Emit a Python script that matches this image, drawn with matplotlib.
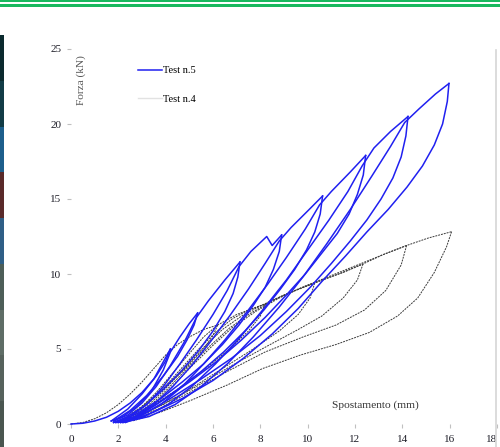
import matplotlib
matplotlib.use("Agg")
import matplotlib.pyplot as plt
from matplotlib.lines import Line2D
from matplotlib.patches import Rectangle

# ---- Test n.5 (blue) : load / unload branches, (spostamento mm, forza kN)
t5_load0 = [(0, 0), (0.5, 0.05), (1, 0.2), (1.5, 0.45), (2, 0.85), (2.5, 1.4), (3, 2.1), (3.5, 3.0), (4.2, 5.0)]
t5_unl0 = [(4.2, 5.0), (4.0, 4.2), (3.6, 3.2), (3.0, 2.0), (2.4, 1.0), (1.7, 0.2)]
t5_rel1 = [(1.7, 0.2), (2.2, 0.5), (2.8, 1.2), (3.4, 2.2), (3.9, 3.6), (4.2, 4.8), (4.6, 5.8), (5.0, 6.7), (5.35, 7.4)]
t5_unl1 = [(5.35, 7.4), (5.2, 6.6), (4.9, 5.6), (4.5, 4.5), (3.9, 3.2), (3.2, 1.9), (2.5, 0.9), (1.8, 0.2)]
t5_rel2 = [(1.8, 0.2), (2.4, 0.6), (3.0, 1.4), (3.6, 2.5), (4.2, 3.9), (4.8, 5.5), (5.3, 7.1), (5.8, 8.2), (6.5, 9.6), (7.14, 10.8)]
t5_unl2 = [(7.14, 10.8), (7.05, 9.8), (6.85, 8.7), (6.5, 7.5), (6.0, 6.2), (5.4, 4.9), (4.7, 3.6), (3.9, 2.3), (3.1, 1.2),
           (2.4, 0.5), (1.8, 0.1)]
t5_rel3 = [(1.8, 0.1), (2.5, 0.5), (3.2, 1.3), (3.9, 2.5), (4.6, 4.0), (5.3, 5.6), (6.0, 7.3), (6.6, 8.9), (7.1, 10.5),
           (7.6, 11.5), (8.27, 12.5), (8.5, 11.9), (8.9, 12.6)]
t5_unl3 = [(8.9, 12.6), (8.8, 11.5), (8.55, 10.3), (8.2, 9.1), (7.7, 7.9), (7.1, 6.6), (6.4, 5.3), (5.6, 4.0), (4.7, 2.8),
           (3.8, 1.7), (2.9, 0.8), (2.2, 0.25), (1.9, 0.1)]
t5_rel4 = [(1.9, 0.1), (2.7, 0.5), (3.5, 1.3), (4.3, 2.5), (5.1, 3.9), (5.9, 5.5), (6.7, 7.2), (7.5, 9.0), (8.2, 10.7),
           (8.8, 12.2), (9.3, 13.1), (10.0, 14.2), (10.63, 15.2)]
t5_unl4 = [(10.63, 15.2), (10.53, 14.0), (10.3, 12.8), (9.95, 11.6), (9.45, 10.3), (8.85, 9.0), (8.15, 7.6), (7.35, 6.2),
           (6.45, 4.8), (5.5, 3.5), (4.5, 2.3), (3.5, 1.2), (2.6, 0.4), (2.0, 0.1)]
t5_rel5 = [(2.0, 0.1), (2.9, 0.5), (3.8, 1.3), (4.7, 2.5), (5.6, 4.0), (6.5, 5.6), (7.4, 7.4), (8.3, 9.3), (9.1, 11.1),
           (9.9, 13.0), (10.5, 14.6), (11.0, 15.5), (11.8, 16.8), (12.45, 17.9)]
t5_unl5 = [(12.45, 17.9), (12.35, 16.6), (12.1, 15.3), (11.75, 14.0), (11.25, 12.7), (10.6, 11.4), (9.9, 10.0), (9.1, 8.6),
           (8.2, 7.1), (7.2, 5.6), (6.1, 4.1), (5.0, 2.8), (3.9, 1.6), (2.9, 0.6), (2.1, 0.1)]
t5_rel6 = [(2.1, 0.1), (3.1, 0.5), (4.1, 1.3), (5.1, 2.5), (6.1, 4.0), (7.1, 5.7), (8.1, 7.6), (9.1, 9.6), (10.0, 11.6),
           (10.9, 13.6), (11.7, 15.5), (12.3, 17.2), (12.8, 18.4), (13.5, 19.5), (14.24, 20.5)]
t5_unl6 = [(14.24, 20.5), (14.15, 19.2), (13.95, 17.8), (13.6, 16.4), (13.1, 15.0), (12.5, 13.6), (11.8, 12.2), (11.0, 10.7),
           (10.1, 9.1), (9.1, 7.5), (8.0, 5.9), (6.8, 4.4), (5.5, 3.0), (4.2, 1.7), (3.1, 0.7), (2.2, 0.1)]
t5_rel7 = [(2.2, 0.1), (3.3, 0.5), (4.4, 1.3), (5.5, 2.5), (6.6, 4.0), (7.7, 5.8), (8.8, 7.8), (9.8, 9.8), (10.8, 12.0),
           (11.8, 14.3), (12.7, 16.5), (13.5, 18.5), (14.1, 20.1), (14.7, 21.0), (15.4, 22.0), (15.97, 22.7)]
t5_unl7 = [(15.97, 22.7), (15.9, 21.5), (15.7, 20.0), (15.35, 18.6), (14.85, 17.2), (14.2, 15.8), (13.4, 14.3), (12.5, 12.8),
           (11.6, 11.2), (10.6, 9.5), (9.6, 7.7), (8.5, 6.0), (7.3, 4.4), (6.0, 2.9), (4.7, 1.7), (3.5, 0.8), (2.3, 0.1)]

# ---- Test n.4 (grey, dotted)
t4_load0 = [(0, 0), (0.5, 0.1), (1, 0.35), (1.5, 0.75), (2, 1.3), (2.5, 2.0), (3, 2.8), (3.5, 3.7), (4, 4.6), (4.5, 5.3),
            (5, 5.8), (5.6, 6.3), (6.2, 6.6)]
t4_unl0 = [(6.2, 6.6), (6.0, 5.9), (5.6, 5.0), (4.9, 3.8), (4.0, 2.5), (3.1, 1.3), (2.2, 0.3)]
t4_rel1 = [(2.2, 0.3), (2.9, 1.0), (3.6, 2.1), (4.3, 3.4), (5.0, 4.7), (5.6, 5.8), (6.2, 6.6), (7.0, 7.3), (8.2, 8.0)]
t4_unl1 = [(8.2, 8.0), (8.0, 7.2), (7.5, 6.2), (6.7, 5.0), (5.6, 3.6), (4.4, 2.2), (3.3, 1.1), (2.3, 0.3)]
t4_rel2 = [(2.3, 0.3), (3.0, 1.0), (3.8, 2.2), (4.6, 3.6), (5.4, 5.0), (6.1, 6.1), (6.8, 7.0), (7.5, 7.6), (8.2, 8.0),
           (9.0, 8.6), (10.3, 9.4)]
t4_unl2 = [(10.3, 9.4), (10.1, 8.4), (9.6, 7.3), (8.8, 6.2), (7.6, 4.9), (6.2, 3.5), (4.8, 2.1), (3.5, 1.0), (2.4, 0.3)]
t4_rel3 = [(2.4, 0.3), (3.1, 1.0), (3.9, 2.2), (4.8, 3.7), (5.6, 5.1), (6.4, 6.3), (7.3, 7.3), (8.3, 8.1), (9.3, 8.8),
           (10.3, 9.4), (11.3, 10.0), (12.34, 10.67)]
t4_unl3 = [(12.34, 10.67), (12.1, 9.6), (11.5, 8.4), (10.6, 7.2), (9.6, 6.3), (8.3, 5.2), (6.8, 3.9), (5.3, 2.5),
           (3.9, 1.3), (2.5, 0.3)]
t4_rel4 = [(2.5, 0.3), (3.2, 1.0), (4.0, 2.2), (4.9, 3.7), (5.8, 5.1), (6.7, 6.4), (7.6, 7.4), (8.6, 8.3), (9.6, 9.0),
           (10.6, 9.6), (11.5, 10.1), (12.34, 10.67), (13.2, 11.3), (14.18, 11.9)]
t4_unl4 = [(14.18, 11.9), (13.95, 10.6), (13.3, 8.9), (12.4, 7.6), (11.2, 6.6), (9.8, 5.8), (8.2, 4.8), (6.6, 3.5),
           (5.0, 2.1), (3.7, 1.0), (2.5, 0.3)]
t4_rel5 = [(2.5, 0.3), (3.3, 1.0), (4.1, 2.2), (5.0, 3.7), (5.9, 5.1), (6.8, 6.4), (7.8, 7.5), (8.8, 8.4), (9.9, 9.2),
           (11.0, 9.9), (12.1, 10.6), (13.2, 11.3), (14.18, 11.9), (15.1, 12.4), (16.08, 12.82)]
t4_unl5 = [(16.08, 12.82), (15.87, 11.82), (15.35, 10.1), (14.65, 8.4), (13.8, 7.2), (12.6, 6.1), (11.2, 5.3),
           (9.7, 4.6), (8.1, 3.7), (6.6, 2.6), (5.1, 1.6), (3.8, 0.8), (2.6, 0.2)]

t5_branches = [t5_load0, t5_unl0, t5_rel1, t5_unl1, t5_rel2, t5_unl2, t5_rel3, t5_unl3,
               t5_rel4, t5_unl4, t5_rel5, t5_unl5, t5_rel6, t5_unl6, t5_rel7, t5_unl7]
t4_branches = [t4_load0, t4_unl0, t4_rel1, t4_unl1, t4_rel2, t4_unl2, t4_rel3, t4_unl3,
               t4_rel4, t4_unl4, t4_rel5, t4_unl5]

x_ticks = [0, 2, 4, 6, 8, 10, 12, 14, 16, 18]
y_ticks = [0, 5, 10, 15, 20, 25]

serif = ["Liberation Serif", "DejaVu Serif"]

fig = plt.figure(figsize=(5.0, 4.47), dpi=100)
fig.patch.set_facecolor("white")

# slide decorations around the chart
fig.add_artist(Rectangle((0, 1 - 1.5 / 447), 1, 1.5 / 447, transform=fig.transFigure, color="#19b85e", lw=0))
fig.add_artist(Rectangle((0, 1 - 6.5 / 447), 1, 3 / 447, transform=fig.transFigure, color="#19b85e", lw=0))
strip_cols = ["#0b2a2e", "#123c46", "#1d5f8c", "#5a2a2a", "#2f5f86", "#4d5e58", "#5f6d66", "#56625c", "#4a5650"]
for i, c in enumerate(strip_cols):
    h = (447 - 35) / 447 / len(strip_cols)
    fig.add_artist(Rectangle((0, (447 - 35) / 447 - (i + 1) * h), 4 / 500, h, transform=fig.transFigure,
                             color=c, lw=0))
fig.add_artist(Line2D([495.5 / 500, 495.5 / 500], [0, (447 - 50) / 447], transform=fig.transFigure,
                      color="#d6d6d6", lw=1.2))

ax = fig.add_axes([71 / 500, 23 / 447, 426 / 500, 375 / 447])
ax.set_xlim(0, 18)
ax.set_ylim(0, 25)
for s in ax.spines.values():
    s.set_visible(False)

for br in t4_branches:
    xs, ys = zip(*br)
    ax.plot(xs, ys, color="#3a3a3a", lw=0.7, ls=(0, (2, 1)), clip_on=False)
for br in t5_branches:
    xs, ys = zip(*br)
    ax.plot(xs, ys, color="#2020f0", lw=1.1, clip_on=False)

ax.set_xticks(x_ticks)
ax.set_yticks(y_ticks)
ax.tick_params(axis="both", direction="out", length=3, width=0.8, color="#c0c0c0",
               labelsize=8, labelcolor="#1e1e28")
ax.tick_params(axis="x", pad=5)
ax.tick_params(axis="y", pad=4)
for lab in ax.get_xticklabels() + ax.get_yticklabels():
    lab.set_family(serif)
ax.get_xticklabels()[-1].set_horizontalalignment("right")
ax.get_xticklabels()[-1].set_x(18.08)

ax.text(0.22, 24.6, "Forza (kN)", rotation=90, ha="left", va="top", fontsize=8.2, color="#555555", family=serif)
ax.text(12.85, 1.27, "Spostamento (mm)", ha="center", va="center", fontsize=8.2, color="#333333", family=serif)

handles = [Line2D([], [], color="#2020f0", lw=1.1), Line2D([], [], color="#e2e2e2", lw=1.0)]
ax.legend(handles, ["Test n.5", "Test n.4"], loc="upper left", bbox_to_anchor=(0.135, 0.98), frameon=False,
          handlelength=2.3, handletextpad=0.1, labelspacing=1.85, prop={"family": serif, "size": 7.5})

fig.savefig("out.png", dpi=100)
